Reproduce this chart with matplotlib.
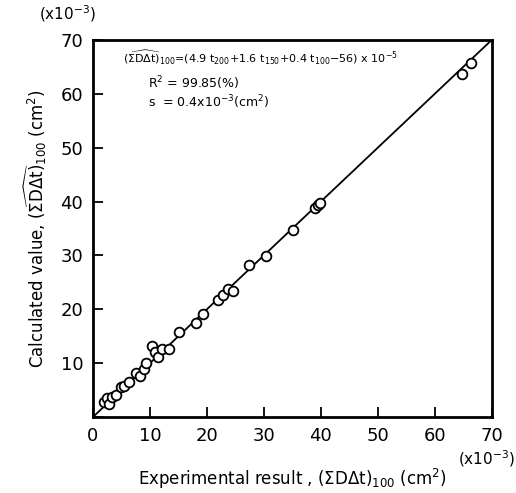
import numpy as np
import matplotlib
matplotlib.use("Agg")
import matplotlib.pyplot as plt

# experimental vs calculated (x10^-3 cm^2)
experimental = [1.9, 2.5, 2.9, 3.4, 4.0, 4.9, 5.5, 6.3, 7.5, 8.2, 9.0, 9.4,
                10.4, 10.9, 11.5, 12.1, 13.4, 15.2, 18.1, 19.4, 21.9, 22.8,
                23.7, 24.6, 27.4, 30.3, 35.1, 39.0, 39.5, 39.9, 64.7, 66.4]
calculated = [2.8, 3.5, 2.4, 3.8, 4.1, 5.5, 5.8, 6.6, 8.2, 7.6, 9.0, 10.1,
              13.2, 12.1, 11.2, 12.6, 12.7, 15.8, 17.4, 19.1, 21.7, 22.6,
              23.7, 23.4, 28.2, 29.9, 34.7, 38.8, 39.3, 39.7, 63.7, 65.7]
ticks = [0, 10, 20, 30, 40, 50, 60, 70]
fit_line = [0, 70]

fig = plt.figure(figsize=(5.16, 4.93), dpi=100)
ax = fig.add_axes([0.180, 0.154, 0.773, 0.765])

ax.plot(fit_line, fit_line, color="black", lw=1.3, zorder=2)
ax.plot(experimental, calculated, "o", ms=7, mfc="white", mec="black",
        mew=1.3, zorder=3, clip_on=False)

ax.set_xlim(0, 70)
ax.set_ylim(0, 70)
ax.set_xticks(ticks)
ax.set_yticks(ticks)
ax.set_xticklabels(["0", "10", "20", "30", "40", "50", "60", "70"])
ax.set_yticklabels(["", "10", "20", "30", "40", "50", "60", "70"])
ax.tick_params(direction="in", length=7, width=1.3, labelsize=13, pad=7)
for sp in ax.spines.values():
    sp.set_linewidth(2)

ax.set_xlabel(r"Experimental result , $(\mathrm{\Sigma D\Delta t})_{100}$ (cm$^2$)",
              fontsize=12, labelpad=16)
ax.set_ylabel(r"Calculated value, $(\widehat{\mathrm{\Sigma D\Delta t}})_{100}$ (cm$^2$)",
              fontsize=12, labelpad=8)

fig.text(0.075, 0.972, r"(x10$^{-3}$)", fontsize=11, ha="left", va="center")
fig.text(0.998, 0.070, r"(x10$^{-3}$)", fontsize=11, ha="right", va="center")

ax.text(0.075, 0.955,
        r"$(\widehat{\mathrm{\Sigma D\Delta t}})_{100}$=(4.9 t$_{200}$+1.6 t$_{150}$+0.4 t$_{100}$$-$56) x 10$^{-5}$",
        transform=ax.transAxes, fontsize=8, ha="left", va="center")
ax.text(0.138, 0.885, r"R$^2$ = 99.85(%)", transform=ax.transAxes,
        fontsize=9, ha="left", va="center")
ax.text(0.138, 0.835, r"s  = 0.4x10$^{-3}$(cm$^2$)", transform=ax.transAxes,
        fontsize=9, ha="left", va="center")

fig.savefig("out.png", dpi=100, facecolor="white")
